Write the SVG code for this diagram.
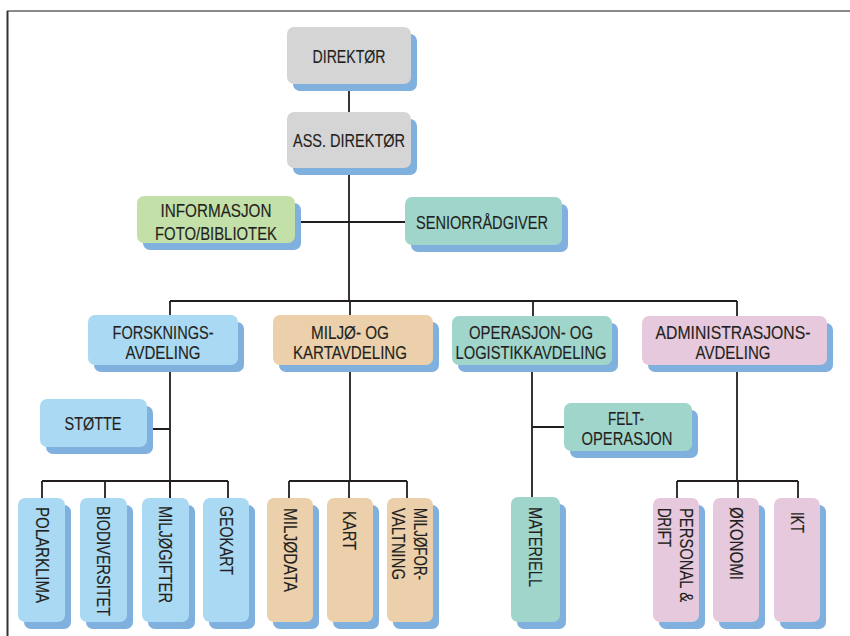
<svg xmlns="http://www.w3.org/2000/svg" width="850" height="636" viewBox="0 0 850 636">
<style>
.sh{fill:#7fb0de}
.g{fill:#d5d5d5}.gr{fill:#c4e0a9}.te{fill:#a0d5cc}.bl{fill:#aad9f3}.ta{fill:#ebd0ab}.pk{fill:#e6c9dd}
text{font-family:"Liberation Sans",Arial,sans-serif;font-size:18px;fill:#231f20;stroke:#231f20;stroke-width:0.15;text-anchor:middle}
text.v{text-anchor:start}
.ln{stroke:#231f20;stroke-width:1.8;fill:none}
</style>
<line x1="7" y1="11" x2="850" y2="11" stroke="#8a8a8a" stroke-width="2"/>
<line x1="7.5" y1="11" x2="7.5" y2="636" stroke="#333" stroke-width="2"/>
<g id="connectors">
<path class="ln" d="M349,84V112M349,168V301M295,222H405M170,301H737M170,301V498M350,301V315M533,301V317M737,301V317"/>
<path class="ln" d="M147,429H170M42,481H228M42,481V498M105,481V498M170,481V498M228,481V498"/>
<path class="ln" d="M350,365V481M289,481H407M289,481V498M349,481V498M407,481V498"/>
<path class="ln" d="M532,365V497M532,427H564"/>
<path class="ln" d="M737,365V481M677,481H798M677,481V498M738,481V498M798,481V498"/>
</g>
<g id="direktor"><rect class="sh" x="293" y="34" width="124" height="57" rx="7"/><rect class="g" x="287" y="27" width="124" height="57" rx="7"/><text x="349" y="62.5" textLength="73" lengthAdjust="spacingAndGlyphs">DIREKTØR</text></g>
<g id="ass-direktor"><rect class="sh" x="293" y="119" width="124" height="56" rx="7"/><rect class="g" x="287" y="112" width="124" height="56" rx="7"/><text x="349" y="146.5" textLength="112" lengthAdjust="spacingAndGlyphs">ASS. DIREKTØR</text></g>
<g id="informasjon"><rect class="sh" x="143" y="203" width="158" height="47" rx="7"/><rect class="gr" x="137" y="196" width="158" height="47" rx="7"/><text x="216" y="216.5" textLength="111" lengthAdjust="spacingAndGlyphs">INFORMASJON</text><text x="216" y="239.5" textLength="122" lengthAdjust="spacingAndGlyphs">FOTO/BIBLIOTEK</text></g>
<g id="seniorradgiver"><rect class="sh" x="411" y="204" width="157" height="48" rx="7"/><rect class="te" x="405" y="197" width="157" height="48" rx="7"/><text x="482" y="228.5" textLength="132" lengthAdjust="spacingAndGlyphs">SENIORRÅDGIVER</text></g>
<g id="forskning"><rect class="sh" x="94" y="322" width="150" height="50" rx="7"/><rect class="bl" x="88" y="315" width="150" height="50" rx="7"/><text x="163" y="338.5" textLength="101" lengthAdjust="spacingAndGlyphs">FORSKNINGS-</text><text x="163" y="358.5" textLength="75" lengthAdjust="spacingAndGlyphs">AVDELING</text></g>
<g id="miljo-kart"><rect class="sh" x="279" y="322" width="160" height="50" rx="7"/><rect class="ta" x="273" y="315" width="160" height="50" rx="7"/><text x="350" y="338.5" textLength="78" lengthAdjust="spacingAndGlyphs">MILJØ- OG</text><text x="350" y="358.5" textLength="114" lengthAdjust="spacingAndGlyphs">KARTAVDELING</text></g>
<g id="operasjon"><rect class="sh" x="458" y="323" width="160" height="49" rx="7"/><rect class="te" x="452" y="316" width="160" height="49" rx="7"/><text x="531" y="338.5" textLength="124" lengthAdjust="spacingAndGlyphs">OPERASJON- OG</text><text x="531" y="358.5" textLength="151" lengthAdjust="spacingAndGlyphs">LOGISTIKKAVDELING</text></g>
<g id="administrasjon"><rect class="sh" x="648" y="323" width="185" height="49" rx="7"/><rect class="pk" x="642" y="316" width="185" height="49" rx="7"/><text x="733" y="338.5" textLength="155" lengthAdjust="spacingAndGlyphs">ADMINISTRASJONS-</text><text x="733" y="358.5" textLength="75" lengthAdjust="spacingAndGlyphs">AVDELING</text></g>
<g id="stotte"><rect class="sh" x="46" y="406" width="107" height="48" rx="7"/><rect class="bl" x="40" y="399" width="107" height="48" rx="7"/><text x="93" y="429.5" textLength="57" lengthAdjust="spacingAndGlyphs">STØTTE</text></g>
<g id="feltoperasjon"><rect class="sh" x="570" y="410" width="128" height="48" rx="7"/><rect class="te" x="564" y="403" width="128" height="48" rx="7"/><text x="626" y="424.5" textLength="36" lengthAdjust="spacingAndGlyphs">FELT-</text><text x="627" y="444.5" textLength="91" lengthAdjust="spacingAndGlyphs">OPERASJON</text></g>
<g id="polarklima"><rect class="sh" x="24" y="505" width="47" height="124" rx="7"/><rect class="bl" x="18" y="498" width="47" height="124" rx="7"/><text class="v" transform="translate(35.5,507) rotate(90)" textLength="96" lengthAdjust="spacingAndGlyphs">POLARKLIMA</text></g>
<g id="biodiversitet"><rect class="sh" x="86" y="505" width="47" height="124" rx="7"/><rect class="bl" x="80" y="498" width="47" height="124" rx="7"/><text class="v" transform="translate(96.5,506) rotate(90) scale(1,1.286)" style="font-size:14px;stroke-width:0.12" textLength="110" lengthAdjust="spacingAndGlyphs">BIODIVERSITET</text></g>
<g id="miljogifter"><rect class="sh" x="148" y="505" width="47" height="124" rx="7"/><rect class="bl" x="142" y="498" width="47" height="124" rx="7"/><text class="v" transform="translate(158.5,506) rotate(90)" textLength="97" lengthAdjust="spacingAndGlyphs">MILJØGIFTER</text></g>
<g id="geokart"><rect class="sh" x="209" y="505" width="46" height="124" rx="7"/><rect class="bl" x="203" y="498" width="46" height="124" rx="7"/><text class="v" transform="translate(219.5,506) rotate(90)" textLength="69" lengthAdjust="spacingAndGlyphs">GEOKART</text></g>
<g id="miljodata"><rect class="sh" x="273" y="505" width="46" height="124" rx="7"/><rect class="ta" x="267" y="498" width="46" height="124" rx="7"/><text class="v" transform="translate(283.5,508) rotate(90)" textLength="84" lengthAdjust="spacingAndGlyphs">MILJØDATA</text></g>
<g id="kart"><rect class="sh" x="333" y="505" width="46" height="124" rx="7"/><rect class="ta" x="327" y="498" width="46" height="124" rx="7"/><text class="v" transform="translate(342.5,511) rotate(90)" textLength="39" lengthAdjust="spacingAndGlyphs">KART</text></g>
<g id="miljoforvaltning"><rect class="sh" x="393" y="505" width="46" height="124" rx="7"/><rect class="ta" x="387" y="498" width="46" height="124" rx="7"/><text class="v" transform="translate(413.5,508) rotate(90)" textLength="72" lengthAdjust="spacingAndGlyphs">MILJØFOR-</text><text class="v" transform="translate(391.5,508) rotate(90)" textLength="72" lengthAdjust="spacingAndGlyphs">VALTNING</text></g>
<g id="materiell"><rect class="sh" x="517" y="504" width="49" height="125" rx="7"/><rect class="te" x="511" y="497" width="49" height="125" rx="7"/><text class="v" transform="translate(528.5,507) rotate(90)" textLength="80" lengthAdjust="spacingAndGlyphs">MATERIELL</text></g>
<g id="personal"><rect class="sh" x="659" y="505" width="46" height="124" rx="7"/><rect class="pk" x="653" y="498" width="46" height="124" rx="7"/><text class="v" transform="translate(679.5,508) rotate(90)" textLength="94" lengthAdjust="spacingAndGlyphs">PERSONAL &amp;</text><text class="v" transform="translate(657.5,508) rotate(90)" textLength="39" lengthAdjust="spacingAndGlyphs">DRIFT</text></g>
<g id="okonomi"><rect class="sh" x="719" y="505" width="46" height="124" rx="7"/><rect class="pk" x="713" y="498" width="46" height="124" rx="7"/><text class="v" transform="translate(729.5,507) rotate(90)" textLength="73" lengthAdjust="spacingAndGlyphs">ØKONOMI</text></g>
<g id="ikt"><rect class="sh" x="780" y="505" width="46" height="124" rx="7"/><rect class="pk" x="774" y="498" width="46" height="124" rx="7"/><text class="v" transform="translate(790.5,512) rotate(90)" textLength="21" lengthAdjust="spacingAndGlyphs">IKT</text></g>
</svg>
